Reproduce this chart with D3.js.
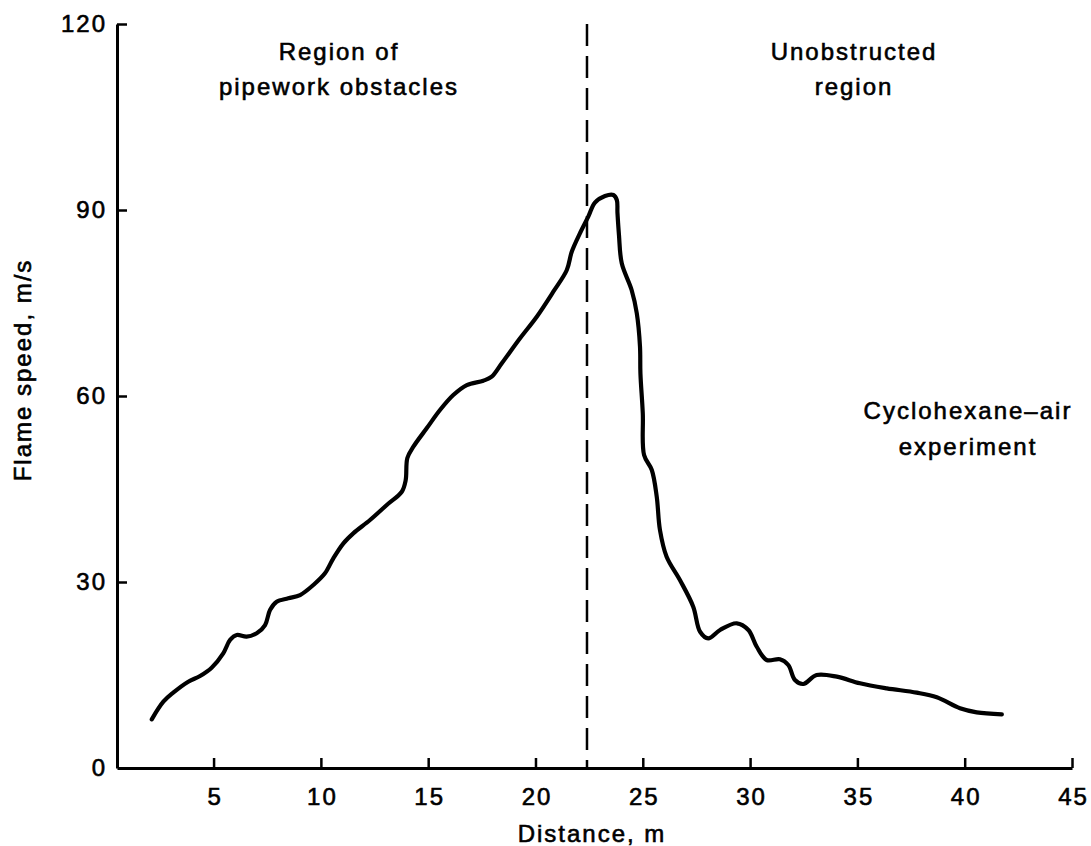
<!DOCTYPE html>
<html>
<head>
<meta charset="utf-8">
<script src="https://cdn.jsdelivr.net/npm/d3@7"></script>
<style>
  html, body { margin: 0; padding: 0; background: #fff; }
  svg { display: block; }
  text { font-family: "Liberation Sans", Arial, Helvetica, sans-serif; fill: #000; }
</style>
</head>
<body>
<svg id="chart" width="1091" height="846"></svg>
<script>
// Flame speed along the rig, cyclohexane-air experiment
const distance = [
  2.12, 2.66, 3.12, 3.82, 4.37, 4.91, 5.45, 5.77, 6.08, 6.54, 7.01, 7.40, 7.63, 7.94, 8.48, 9.03,
  9.65, 10.19, 10.58, 11.05, 11.51, 12.29, 13.07, 13.77, 13.95, 14.03, 14.31, 14.93, 15.55, 16.17,
  16.80, 17.57, 17.96, 18.43, 19.28, 20.06, 20.83, 21.46, 21.69, 22.07, 22.46, 22.77, 23.24, 23.63,
  23.79, 23.82, 23.89, 24.02, 24.48, 24.72, 24.87, 24.89, 25.00, 25.06, 25.42, 25.65, 25.80, 26.11,
  26.73, 27.35, 27.67, 28.05, 28.60, 29.38, 29.92, 30.31, 30.77, 31.39, 31.78, 32.09, 32.48, 33.10,
  34.04, 35.12, 36.37, 37.76, 38.70, 39.78, 40.56, 41.73
];
const flameSpeed = [
  7.85, 10.69, 12.15, 13.92, 14.84, 16.18, 18.50, 20.65, 21.45, 21.18, 21.73, 23.06, 25.48, 26.82, 27.37, 27.90,
  29.52, 31.40, 33.82, 36.24, 37.85, 40.00, 42.42, 44.56, 46.40, 50.00, 51.82, 54.79, 57.74, 60.16,
  61.77, 62.47, 63.11, 65.27, 69.31, 72.79, 76.82, 80.32, 83.27, 86.24, 88.92, 91.18, 92.26, 92.42,
  91.61, 89.52, 85.97, 81.40, 77.10, 73.34, 67.95, 63.66, 57.21, 50.48, 48.06, 43.76, 38.39, 34.08,
  30.32, 26.02, 21.98, 20.92, 22.26, 23.34, 22.26, 19.56, 17.42, 17.53, 16.61, 14.19, 13.55, 15.00,
  14.73, 13.66, 12.85, 12.15, 11.40, 9.63, 8.98, 8.66
];
const xTicks = [5, 10, 15, 20, 25, 30, 35, 40, 45];
const yTicks = [0, 30, 60, 90, 120];
const boundaryDistance = [22.4];
const obstructedLabel = ["Region of", "pipework obstacles"];
const openLabel = ["Unobstructed", "region"];
const experimentLabel = ["Cyclohexane\u2013air", "experiment"];

const svg = d3.select("#chart");
const x = d3.scaleLinear().domain([0.5, 45]).range([117, 1072]);
const y = d3.scaleLinear().domain([0, 120]).range([768, 24]);

const ink = "#000";
const fontSize = 24;
const tracking = 2;

function styleText(sel) {
  return sel
    .attr("font-size", fontSize)
    .attr("font-family", "'Liberation Sans', Arial, sans-serif")
    .attr("letter-spacing", tracking)
    .attr("fill", ink).attr("stroke", ink).attr("stroke-width", 0.6);
}

// Axes with inward ticks
const gx = svg.append("g").attr("transform", `translate(0,${y(0)})`)
  .call(d3.axisBottom(x).tickValues(xTicks).tickSize(-10).tickPadding(20).tickSizeOuter(0));
const gy = svg.append("g").attr("transform", `translate(${x(0.5)},0)`)
  .call(d3.axisLeft(y).tickValues(yTicks).tickSize(-10).tickPadding(10).tickSizeOuter(0));

[gx, gy].forEach(g => {
  g.select(".domain").attr("stroke", ink).attr("stroke-width", 3);
  g.selectAll(".tick line").attr("stroke", ink).attr("stroke-width", 2.5);
  styleText(g.selectAll(".tick text"));
});
gx.selectAll(".tick text").attr("dx", tracking / 2);
gy.selectAll(".tick").filter(d => d === 0).select("line").remove();

// Boundary between the obstructed and unobstructed regions
svg.selectAll(".boundary").data(boundaryDistance).enter().append("line")
  .attr("class", "boundary")
  .attr("x1", d => x(d)).attr("x2", d => x(d))
  .attr("y1", y(120)).attr("y2", y(0))
  .attr("stroke", ink).attr("stroke-width", 2.5)
  .attr("stroke-dasharray", "22,10");

// Flame speed curve
const pts = distance.map((d, i) => [d, flameSpeed[i]]);
const line = d3.line().x(d => x(d[0])).y(d => y(d[1])).curve(d3.curveCatmullRom.alpha(0.5));
svg.append("path").datum(pts)
  .attr("d", line)
  .attr("fill", "none").attr("stroke", ink)
  .attr("stroke-width", 4.2).attr("stroke-linecap", "round").attr("stroke-linejoin", "round");

// Two-line annotations
function annotate(lines, cx, baseline, gap) {
  const t = styleText(svg.append("text"))
    .attr("x", cx).attr("y", baseline)
    .attr("text-anchor", "middle");
  lines.forEach((s, i) => {
    t.append("tspan").attr("x", cx + tracking / 2).attr("dy", i === 0 ? 0 : gap).text(s);
  });
}
annotate(obstructedLabel, 338, 60, 35);
annotate(openLabel, 853, 60, 35);
annotate(experimentLabel, 967, 419, 36);

// Axis titles
styleText(svg.append("text"))
  .attr("x", 592).attr("y", 842)
  .attr("text-anchor", "middle")
  .text("Distance, m");
styleText(svg.append("text"))
  .attr("transform", `translate(31,370) rotate(-90)`)
  .attr("text-anchor", "middle")
  .text("Flame speed, m/s");
</script>
</body>
</html>
